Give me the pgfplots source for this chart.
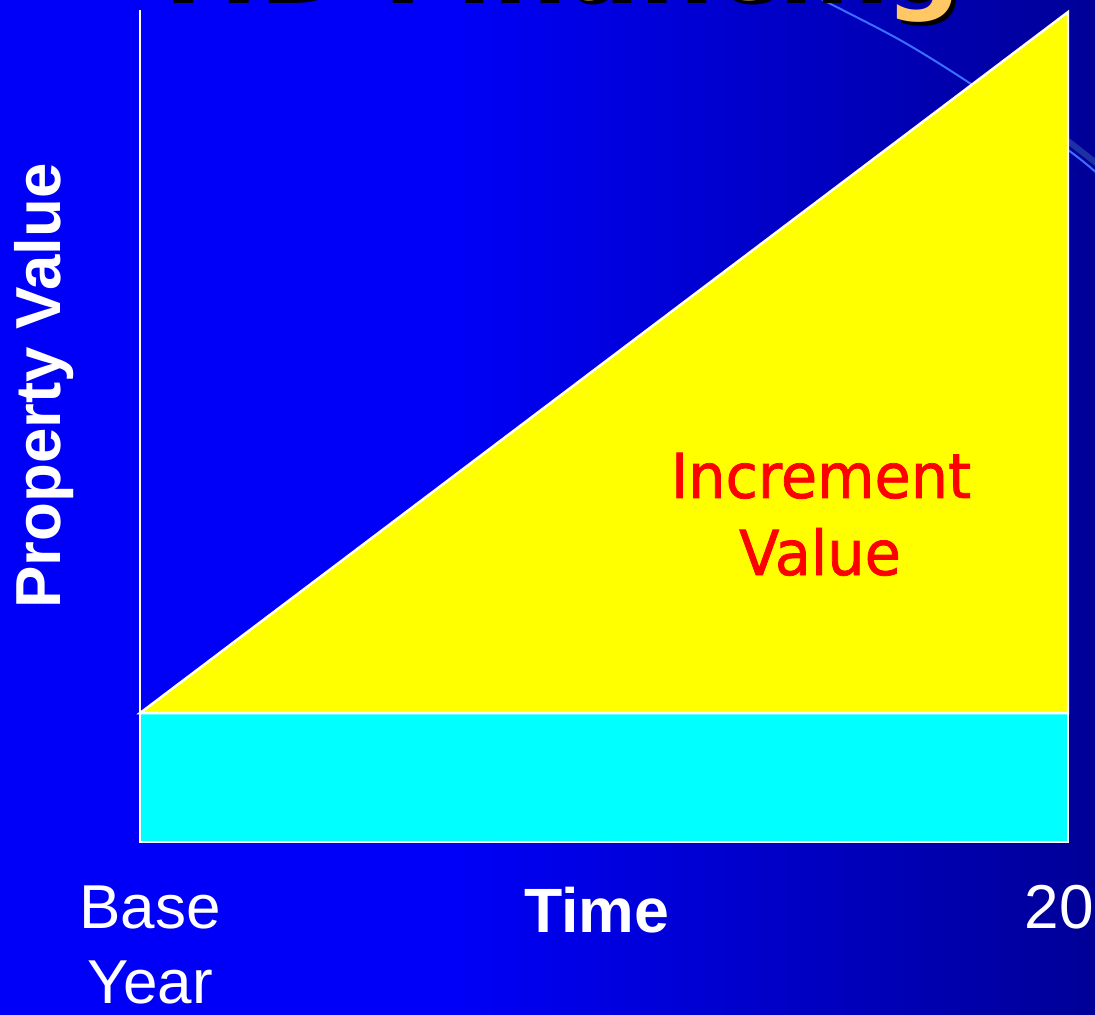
\documentclass[border=0pt]{standalone}
\usepackage{fontspec}
\setmainfont{Liberation Sans}
\newfontfamily\incfont[FakeStretch=0.95,FakeBold=1.2]{DejaVu Sans}
\newfontfamily\titlefont{DejaVu Sans}
\usepackage{pgfplots}
\pgfplotsset{compat=1.18}
\definecolor{bgl}{RGB}{0,0,248}
\definecolor{bgr}{RGB}{0,0,150}
\definecolor{arcc}{RGB}{60,110,255}
\definecolor{arcd}{RGB}{40,70,170}
\definecolor{titleor}{RGB}{255,200,100}
\definecolor{cyanfill}{RGB}{0,255,255}
\definecolor{yellowfill}{RGB}{255,255,0}
\definecolor{redtext}{RGB}{255,0,0}
\begin{document}
\begin{tikzpicture}
\path[use as bounding box] (0,0) rectangle (547.5pt,507pt);
\clip (-3pt,-3pt) rectangle (550.5pt,510pt);
\fill[bgl] (-3pt,-3pt) rectangle (225pt,510pt);
\shade[left color=bgl, right color=bgr] (224.9pt,-3pt) rectangle (550.5pt,510pt);
\begin{scope}[x=0.5pt,y=-0.5pt,yshift=507pt]
  \draw[arcc, line width=1pt] plot[smooth] coordinates {(790,-18) (823,0) (900,40) (968,82) (1068,150) (1100,176)};
  \draw[arcd, line width=3pt, opacity=0.7] (1068,141) -- (1100,166);
  \node[anchor=base west, inner sep=0, font=\titlefont\bfseries\fontsize{53}{60}\selectfont, text=black] at (147,4) {TID Financing};
  \node[anchor=base west, inner sep=0, font=\titlefont\bfseries\fontsize{53}{60}\selectfont, text=titleor] at (143,0) {TID Financing};
\end{scope}
\begin{axis}[
  at={(70pt,86pt)}, anchor=south west,
  scale only axis, width=464pt, height=416pt,
  xmin=0, xmax=20, ymin=0, ymax=100,
  clip=false,
  axis x line=bottom, axis y line=left,
  axis line style={white, line width=1.2pt, -},
  ytick=\empty,
  xtick={0.2155,19.81},
  xticklabels={{Base\\Year},{20}},
  major tick length=0pt,
  xticklabel style={font=\fontsize{31}{37.5}\selectfont, text=white, align=center, anchor=north, inner sep=0pt, yshift=-21.5pt},
  xlabel={Time},
  ylabel={Property Value},
  xlabel style={at={(axis description cs:0.492,-0.1082)}, anchor=base, inner sep=0pt, font=\fontsize{31.3}{37.5}\selectfont\bfseries, text=white},
  ylabel style={at={(axis description cs:-0.0862,0.548)}, anchor=base, inner sep=0pt, font=\fontsize{31.8}{37.5}\selectfont\bfseries, text=white},
]
\addplot[fill=cyanfill, draw=white, line width=1.2pt] coordinates {(0,0) (20,0) (20,15.5) (0,15.5)} -- cycle;
\addplot[fill=yellowfill, draw=white, line width=1.2pt] coordinates {(0,15.5) (20,99.76) (20,15.5)} -- cycle;
\node[anchor=base, inner sep=0pt, font=\incfont\fontsize{31}{38}\selectfont, text=redtext] at (axis cs:14.677,41.35) {Increment};
\node[anchor=base, inner sep=0pt, font=\incfont\fontsize{31}{38}\selectfont, text=redtext] at (axis cs:14.655,32.09) {Value};
\end{axis}
\end{tikzpicture}
\end{document}
